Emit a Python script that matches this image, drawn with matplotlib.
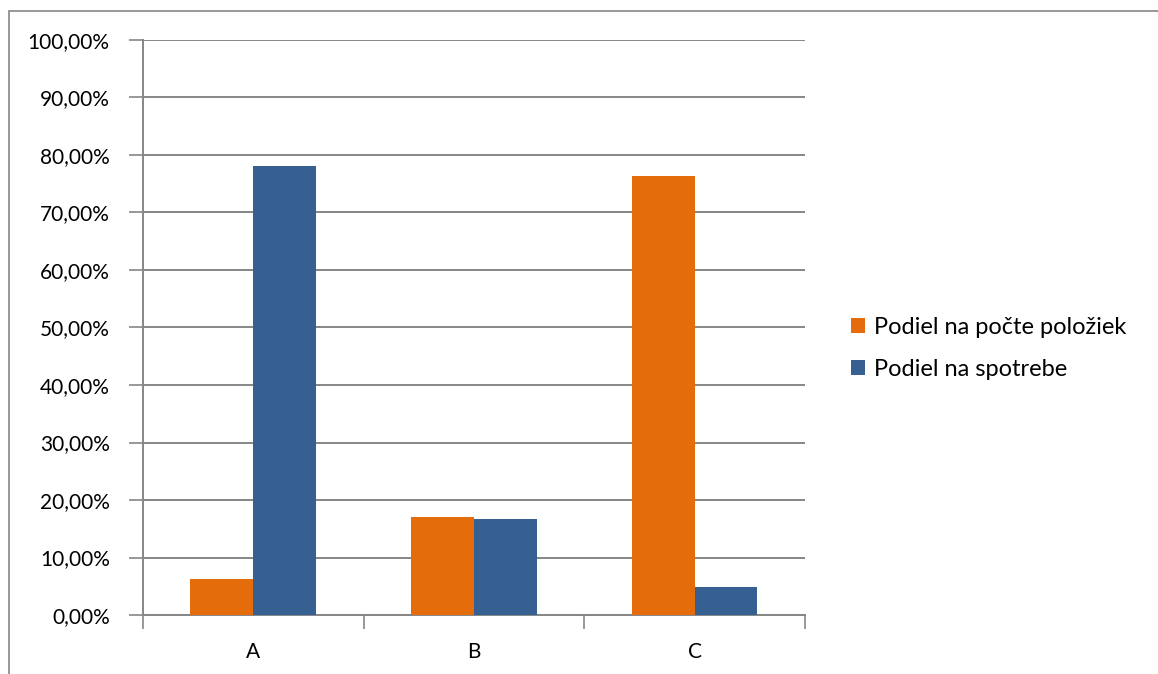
import matplotlib.pyplot as plt
import numpy as np
from matplotlib.ticker import FuncFormatter, FixedLocator
from matplotlib.patches import Rectangle

# podiely skupin A, B, C
kategorie = ['A', 'B', 'C']
podiel_polozky = [6.3, 17.0, 76.3]
podiel_spotreba = [78.1, 16.7, 4.8]
nazvy = ['Podiel na počte položiek', 'Podiel na spotrebe']
farby = ['#E46C0A', '#376092']

plt.rcParams['font.family'] = ['Lato', 'DejaVu Sans']

fig = plt.figure(figsize=(11.58, 6.74), dpi=100)
ax = fig.add_axes([0.1235, 0.0875, 0.5715, 0.8532])

x = np.arange(len(kategorie))
w = 0.285
ax.bar(x - w / 2, podiel_polozky, w, color=farby[0], label=nazvy[0], zorder=3)
ax.bar(x + w / 2, podiel_spotreba, w, color=farby[1], label=nazvy[1], zorder=3)

ax.set_xlim(-0.5, 2.5)
ax.set_ylim(0, 100)
ax.set_yticks(np.arange(0, 101, 10))
ax.yaxis.set_major_formatter(FuncFormatter(lambda v, p: f'{v:.2f}'.replace('.', ',') + '%'))
ax.yaxis.grid(True, color='#868686', linewidth=1.4, zorder=0)

ax.set_xticks(x)
ax.set_xticklabels(kategorie)
ax.xaxis.set_minor_locator(FixedLocator([-0.5, 0.5, 1.5, 2.5]))
ax.tick_params(axis='x', which='major', length=0, pad=19.5, labelsize=15)
ax.tick_params(axis='x', which='minor', length=10, width=1.2, color='#868686')
ax.tick_params(axis='y', length=10, width=1.2, color='#868686', pad=14, labelsize=15)

for s in ['top', 'right']:
    ax.spines[s].set_visible(False)
for s in ['left', 'bottom']:
    ax.spines[s].set_color('#868686')
    ax.spines[s].set_linewidth(1.4)

ax.legend(loc='center left', bbox_to_anchor=(1.038, 0.4635), frameon=False,
          fontsize=17, handlelength=0.6, handleheight=0.6, handletextpad=0.35,
          labelspacing=0.9)

# ramcek grafu
fig.patches.append(Rectangle((9 / 1158, -0.1), 1.2, 1 - 11 / 674 + 0.1,
                             transform=fig.transFigure, fill=False,
                             edgecolor='#868686', linewidth=1.2))

fig.savefig('out.png', dpi=100)
